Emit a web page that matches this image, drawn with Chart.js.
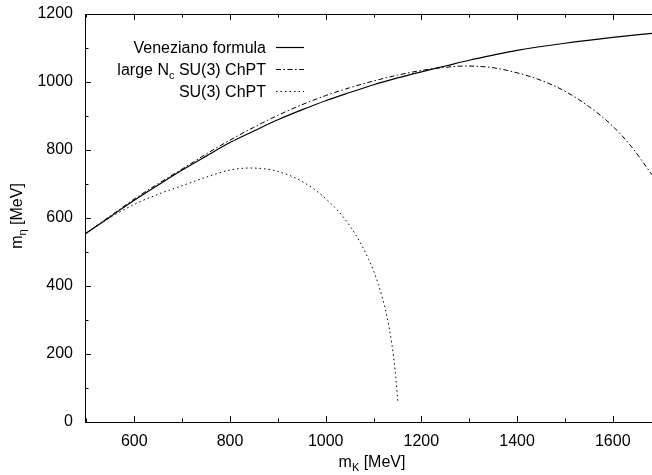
<!DOCTYPE html>
<html>
<head>
<meta charset="utf-8">
<script src="https://cdn.jsdelivr.net/npm/chart.js@4.4.1/dist/chart.umd.min.js"></script>
<style>
  html, body { margin: 0; padding: 0; background: #fff; }
  #wrap { width: 652px; height: 475px; position: relative; }
</style>
</head>
<body>
<div id="wrap"><canvas id="c" width="652" height="475"></canvas></div>
<script>
// ---- data ----
const venezianoX = [497, 550, 600, 650, 700, 750, 800, 850, 900, 950, 1000, 1050, 1100, 1150, 1200, 1250, 1300, 1350, 1400, 1500, 1600, 1682];
const venezianoY = [553, 604, 652, 697, 741, 782, 822, 856, 889, 918, 945, 969, 992, 1012, 1030, 1047, 1064, 1079, 1093, 1114, 1131, 1143];

const largeNcX = [497, 550, 600, 650, 700, 750, 800, 850, 900, 950, 1000, 1050, 1100, 1150, 1200, 1250, 1290, 1320, 1350, 1400, 1450, 1500, 1550, 1600, 1640, 1682];
const largeNcY = [553, 606, 656, 701, 744, 788, 829, 867, 902, 933, 960, 983, 1003, 1020, 1034, 1043, 1047, 1046, 1042, 1027, 1005, 973, 928, 870, 808, 727];

const su3X = [497, 550, 600, 650, 700, 750, 800, 840, 870, 900, 950, 1000, 1050, 1090, 1110, 1128, 1138, 1145, 1151];
const su3Y = [553, 602, 640, 670, 695, 720, 741, 747, 745, 737, 708, 657, 578, 478, 405, 311, 232, 154, 56];

const xMajorTicks = [600, 800, 1000, 1200, 1400, 1600];
const xMinorTicks = [500, 700, 900, 1100, 1300, 1500];
const yMajorTicks = [0, 200, 400, 600, 800, 1000, 1200];
const yMinorTicks = [100, 300, 500, 700, 900, 1100];

const seriesNames = ["Veneziano formula", "large N", "SU(3) ChPT"];

const toPts = (xs, ys) => xs.map((x, i) => ({ x: x, y: ys[i] }));

const FONT = '"Liberation Sans", Arial, Helvetica, sans-serif';
const DASHDOT = [5, 2.5, 1.5, 2.5];
const DOTTED = [1.5, 3];

const framePlugin = {
  id: 'frame',
  afterDraw(chart) {
    const ctx = chart.ctx;
    const a = chart.chartArea;
    const xs = chart.scales.x, ys = chart.scales.y;
    ctx.save();
    ctx.strokeStyle = '#000';
    ctx.lineWidth = 1;
    ctx.setLineDash([]);
    // frame
    ctx.beginPath();
    ctx.moveTo(652, a.top + 0.5);
    ctx.lineTo(a.left + 0.5, a.top + 0.5);
    ctx.lineTo(a.left + 0.5, a.bottom + 0.5);
    ctx.lineTo(652, a.bottom + 0.5);
    ctx.stroke();
    // ticks
    ctx.beginPath();
    const tx = (v, len) => {
      const p = Math.round(xs.getPixelForValue(v)) + 0.5;
      ctx.moveTo(p, a.bottom); ctx.lineTo(p, a.bottom - len);
      ctx.moveTo(p, a.top); ctx.lineTo(p, a.top + len);
    };
    const ty = (v, len) => {
      const p = Math.round(ys.getPixelForValue(v)) + 0.5;
      ctx.moveTo(a.left, p); ctx.lineTo(a.left + len, p);
    };
    xMajorTicks.forEach(v => tx(v, 6));
    xMinorTicks.forEach(v => tx(v, 3.5));
    yMajorTicks.forEach(v => ty(v, 6));
    yMinorTicks.forEach(v => ty(v, 3.5));
    ctx.stroke();

    // axis titles
    ctx.fillStyle = '#000';
    ctx.textBaseline = 'alphabetic';
    const drawSub = (x, y, main, sub, rest, align) => {
      ctx.font = '16px ' + FONT;
      const w1 = ctx.measureText(main).width;
      ctx.font = '11px ' + FONT;
      const w2 = ctx.measureText(sub).width;
      ctx.font = '16px ' + FONT;
      const w3 = ctx.measureText(rest).width;
      const total = w1 + w2 + w3;
      let sx = align === 'right' ? x - total : x - total / 2;
      ctx.textAlign = 'left';
      ctx.font = '16px ' + FONT;
      ctx.fillText(main, sx, y);
      ctx.font = '11px ' + FONT;
      ctx.fillText(sub, sx + w1, y + 4);
      ctx.font = '16px ' + FONT;
      ctx.fillText(rest, sx + w1 + w2, y);
    };
    drawSub(372, 467, 'm', 'K', ' [MeV]', 'center');
    ctx.save();
    ctx.translate(22, 216);
    ctx.rotate(-Math.PI / 2);
    drawSub(0, 0, 'm', 'η', ' [MeV]', 'center');
    ctx.restore();

    // legend
    const rows = [
      { y: 47, dash: [], lw: 1.2, label: [seriesNames[0]] },
      { y: 69, dash: DASHDOT, lw: 1, label: [seriesNames[1], 'c', ' SU(3) ChPT'] },
      { y: 91, dash: DOTTED, lw: 1, label: [seriesNames[2]] }
    ];
    rows.forEach(r => {
      const base = r.y + 6;
      if (r.label.length === 1) {
        ctx.font = '16px ' + FONT;
        ctx.textAlign = 'right';
        ctx.fillText(r.label[0], 266, base);
      } else {
        drawSub(266, base, r.label[0], r.label[1], r.label[2], 'right');
      }
      ctx.beginPath();
      ctx.setLineDash(r.dash);
      ctx.lineWidth = r.lw;
      ctx.moveTo(276, r.y + 0.5);
      ctx.lineTo(304, r.y + 0.5);
      ctx.stroke();
    });
    ctx.restore();
  }
};

new Chart(document.getElementById('c'), {
  type: 'scatter',
  data: {
    datasets: [
      { label: seriesNames[0], data: toPts(venezianoX, venezianoY), showLine: true,
        borderColor: '#000', borderWidth: 1.2, pointRadius: 0, cubicInterpolationMode: 'monotone' },
      { label: 'large Nc SU(3) ChPT', data: toPts(largeNcX, largeNcY), showLine: true,
        borderColor: '#000', borderWidth: 1, borderDash: DASHDOT, pointRadius: 0, cubicInterpolationMode: 'monotone' },
      { label: seriesNames[2], data: toPts(su3X, su3Y), showLine: true,
        borderColor: '#000', borderWidth: 1, borderDash: DOTTED, pointRadius: 0, cubicInterpolationMode: 'monotone' }
    ]
  },
  options: {
    responsive: false,
    animation: false,
    devicePixelRatio: 1,
    layout: { padding: { top: 14, right: 0, left: 0, bottom: 0 } },
    plugins: { legend: { display: false }, tooltip: { enabled: false } },
    scales: {
      x: {
        type: 'linear', min: 497, max: 1682,
        afterBuildTicks: s => { s.ticks = xMajorTicks.map(v => ({ value: v })); },
        afterFit: s => { s.height = 53; s.paddingLeft = 0; s.paddingRight = 0; },
        grid: { display: false, drawTicks: false },
        border: { display: false },
        ticks: { color: '#000', font: { family: FONT, size: 16 }, padding: 10, maxRotation: 0, autoSkip: false,
                 callback: v => String(v) }
      },
      y: {
        type: 'linear', min: 0, max: 1200,
        afterBuildTicks: s => { s.ticks = yMajorTicks.map(v => ({ value: v })); },
        afterFit: s => { s.width = 85; s.paddingTop = 0; s.paddingBottom = 0; },
        grid: { display: false, drawTicks: false },
        border: { display: false },
        ticks: { color: '#000', font: { family: FONT, size: 16 }, padding: 12, autoSkip: false,
                 callback: v => String(v) }
      }
    }
  },
  plugins: [framePlugin]
});
</script>
</body>
</html>
